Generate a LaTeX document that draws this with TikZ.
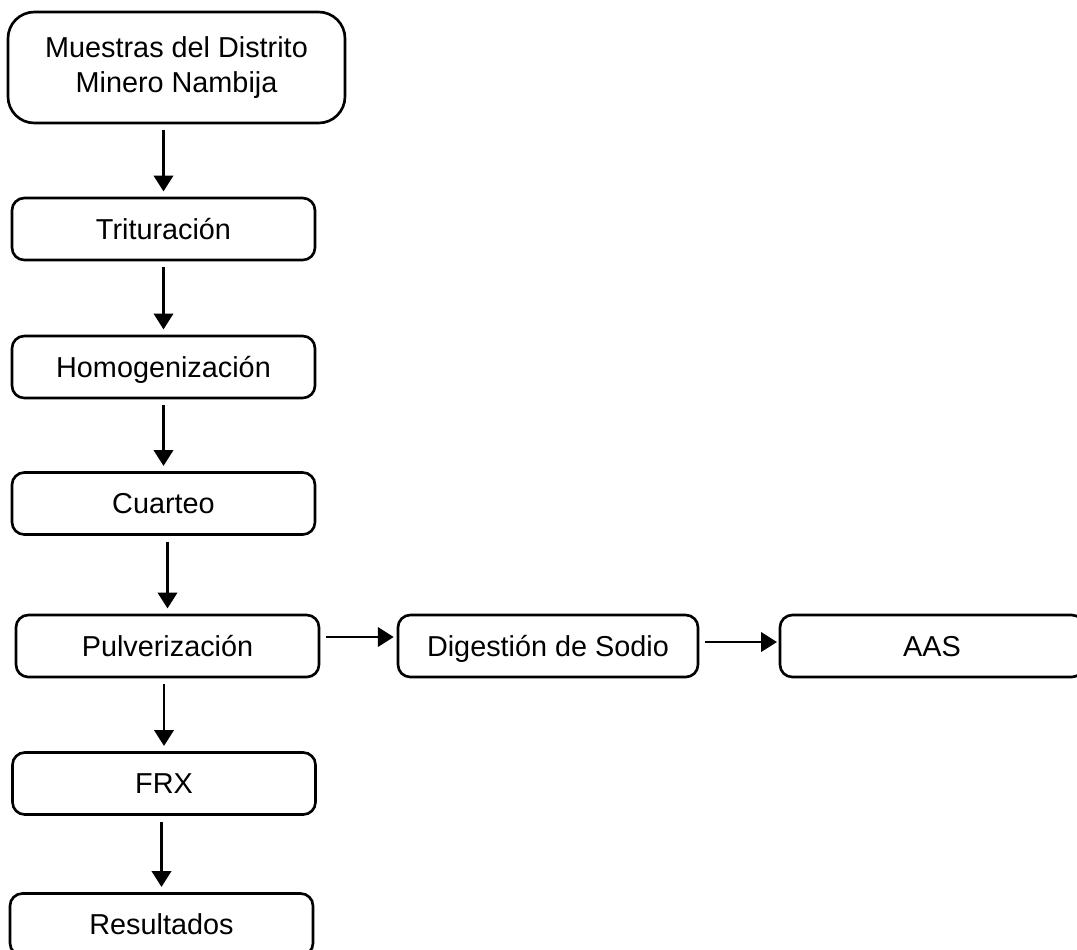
\documentclass[tikz,border=0pt]{standalone}
\usepackage{fontspec}
\setmainfont{Liberation Sans}
\usetikzlibrary{arrows.meta}
\begin{document}
\begin{tikzpicture}[line width=1.5pt,
    every node/.style={font=\fontsize{16.4}{19.8}\selectfont},
    caja/.style={draw, rounded corners=7pt, align=center, inner sep=0pt},
    paso/.style={caja, text height=11.7pt, text depth=0pt, minimum width=6.06cm, minimum height=1.24cm},
    flecha/.style={-{Triangle[length=9pt,width=11pt]}, shorten <=3.4pt, shorten >=3pt}]
    \useasboundingbox (0,0) rectangle (21.54,-18.98);
    \clip (0,0) rectangle (21.54,-18.98);

    \node[caja, rounded corners=15pt, minimum width=6.74cm, minimum height=2.22cm] (muestras) at (3.53,-1.35) {Muestras del Distrito\\ Minero Nambija};
    \node[paso] (tritur) at (3.27,-4.58) {Trituración};
    \draw[flecha] (muestras.south -| tritur.north) -- (tritur.north);
    \node[paso] (homog) at (3.27,-7.34) {Homogenización};
    \draw[flecha] (tritur.south) -- (homog.north);
    \node[paso] (cuarteo) at (3.27,-10.07) {Cuarteo};
    \draw[flecha] (homog.south) -- (cuarteo.north);
    \node[paso] (pulver) at (3.35,-12.92) {Pulverización};
    \draw[flecha] (cuarteo.south -| pulver.north) -- (pulver.north);
    \node[paso] (frx) at (3.28,-15.67) {FRX};
    \draw[flecha] (pulver.south -| frx.north) -- (frx.north);
    \node[paso] (result) at (3.23,-18.49) {Resultados};
    \draw[flecha] (frx.south -| result.north) -- (result.north);

    \node[paso, minimum width=6.0cm] (digest) at (10.96,-12.92) {Digestión de Sodio};
    \draw[flecha, shorten >=1.7pt] ([yshift=0.18cm]pulver.east) -- ([yshift=0.18cm]digest.west);
    \node[paso, minimum width=6.08cm] (aas) at (18.64,-12.92) {AAS};
    \draw[flecha, shorten >=1pt] ([yshift=0.08cm]digest.east) -- ([yshift=0.08cm]aas.west);
\end{tikzpicture}
\end{document}
